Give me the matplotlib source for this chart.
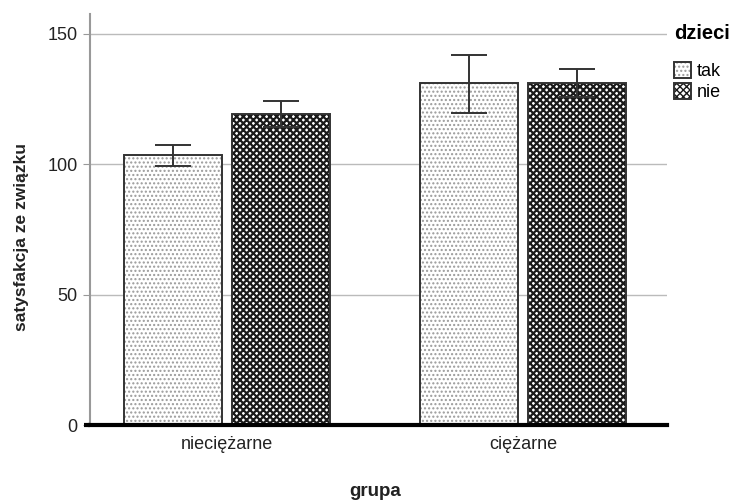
import matplotlib
matplotlib.use("Agg")
import matplotlib.pyplot as plt
import numpy as np
from matplotlib.patches import Patch
from matplotlib.legend_handler import HandlerTuple

groups = ["nieciężarne", "ciężarne"]
series = ["tak", "nie"]
means = {"tak": [103.6, 131.0], "nie": [119.2, 131.1]}
err_low = {"tak": [99.3, 119.8], "nie": [114.3, 125.8]}
err_high = {"tak": [107.3, 141.9], "nie": [124.1, 136.4]}
yticks = [0, 50, 100, 150]

plt.rcParams['font.family'] = ['Liberation Sans', 'DejaVu Sans']

fig = plt.figure(figsize=(7.36, 5.01), dpi=100)
ax = fig.add_axes([90/736, 1-425/501, (667-90)/736, (425-14)/501])

x = np.arange(len(groups))
width = 0.331
offsets = {"tak": -0.182, "nie": 0.182}
styles = {
    "tak": dict(face="white", hatch="....", hcol="#9a9a9a", hlw=1.0),
    "nie": dict(face="white", hatch="xxxxx", hcol="#1a1a1a", hlw=1.6),
}

for s in series:
    st = styles[s]
    pos = x + offsets[s]
    with plt.rc_context({"hatch.linewidth": st["hlw"]}):
        ax.bar(pos, means[s], width, color=st["face"], hatch=st["hatch"],
               edgecolor=st["hcol"], linewidth=0, zorder=2)
    ax.bar(pos, means[s], width, fill=False, edgecolor="#333333",
           linewidth=1.4, zorder=3)
    m = np.array(means[s])
    lo = m - np.array(err_low[s])
    hi = np.array(err_high[s]) - m
    ax.errorbar(pos, m, yerr=[lo, hi], fmt="none", ecolor="#333333",
                elinewidth=1.4, capsize=13, capthick=1.4, zorder=4)

ax.set_ylim(0, 157.6)
ax.set_xlim(-0.463, 1.486)
ax.set_yticks(yticks)
ax.set_xticks(x)
ax.set_xticklabels(groups, fontsize=13, color="#222222")
ax.tick_params(axis="x", length=0, pad=8)
ax.tick_params(axis="y", length=5, color="#999999", labelsize=13,
               labelcolor="#222222", pad=4)
ax.yaxis.grid(True, color="#bbbbbb", linewidth=1.0, zorder=0)
ax.set_axisbelow(True)

for sp in ["top", "right"]:
    ax.spines[sp].set_visible(False)
ax.spines["left"].set_color("#999999")
ax.spines["left"].set_linewidth(1.5)
ax.spines["bottom"].set_color("black")
ax.spines["bottom"].set_linewidth(3)
ax.spines["bottom"].set_zorder(5)
# extend the baseline slightly to the left of the y axis, as in the original
ax.plot([-6/577, 0], [0, 0], transform=ax.transAxes, color="black",
        linewidth=3, clip_on=False, zorder=5, solid_capstyle="butt")

fig.text(375/736, 1-491/501, "grupa", ha="center", va="center",
         fontsize=13.5, fontweight="bold", color="#222222")
fig.text(22/736, 1-237/501, "satysfakcja ze związku", ha="center", va="center",
         rotation=90, fontsize=12.5, fontweight="bold", color="#222222")

handles = []
with plt.rc_context({"hatch.linewidth": 1.0}):
    for s in series:
        st = styles[s]
        h1 = Patch(facecolor="white", edgecolor=st["hcol"], hatch=st["hatch"], linewidth=0)
        h2 = Patch(fill=False, edgecolor="#333333", linewidth=1.4)
        handles.append((h1, h2))
leg = fig.legend(handles, series, loc="upper left", bbox_to_anchor=(674/736, 1-24/501),
                 frameon=False, title="dzieci", fontsize=13, handlelength=0.95,
                 handleheight=0.95, handletextpad=0.3, labelspacing=0.15,
                 borderpad=0, borderaxespad=0,
                 title_fontproperties={"weight": "bold", "size": 14.5},
                 handler_map={tuple: HandlerTuple(ndivide=1, pad=0)})
leg._legend_box.align = "left"
leg._legend_box.sep = 14

fig.savefig("out.png", dpi=100)
